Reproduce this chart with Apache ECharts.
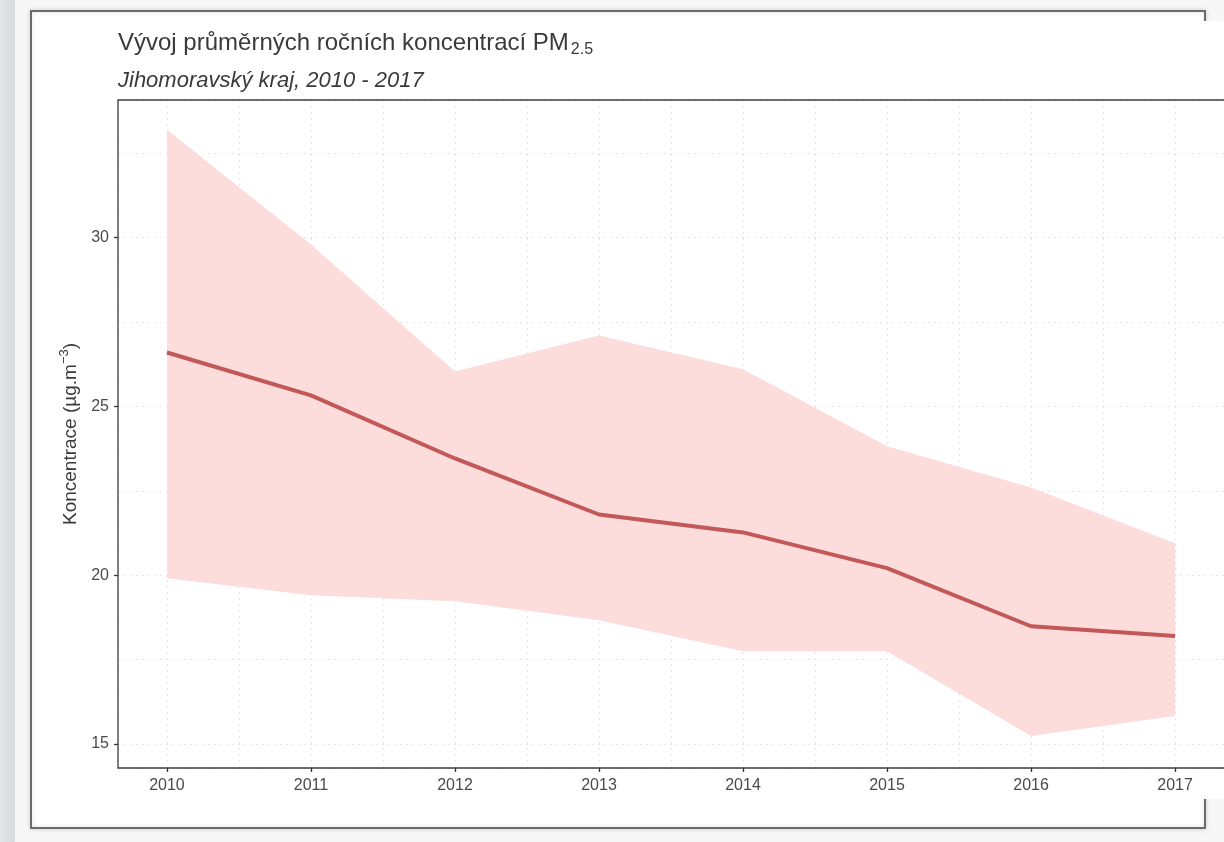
<!DOCTYPE html>
<html>
<head>
<meta charset="utf-8">
<script src="https://cdn.jsdelivr.net/npm/echarts@6/dist/echarts.min.js"></script>
<style>
  html, body { margin: 0; padding: 0; background: #f7f7f7; }
  #chart { width: 1224px; height: 842px; }
</style>
</head>
<body>
<div id="chart"></div>
<script>
// PM2.5 yearly averages, Jihomoravsky kraj
const years = [2010, 2011, 2012, 2013, 2014, 2015, 2016, 2017];
const meanVals = [26.6, 25.33, 23.46, 21.8, 21.27, 20.21, 18.49, 18.2];
const upperVals = [33.2, 29.8, 26.04, 27.1, 26.1, 23.82, 22.6, 20.95];
const lowerVals = [19.91, 19.41, 19.23, 18.67, 17.75, 17.75, 15.24, 15.83];
const yTicks = [15, 20, 25, 30];

const xRange = [2009.66, 2017.34];
const yRange = [14.29, 34.08];

const txt = '#4a4a4a';
const gridLine = { show: true, lineStyle: { color: '#e6e6e6', type: [2, 4], width: 1 } };

const chart = echarts.init(document.getElementById('chart'));

// ribbon between lower and upper values
function renderBand(params, api) {
    if (params.dataIndex !== 0) return;
    const top = years.map((y, i) => api.coord([y, upperVals[i]]));
    const bottom = years.map((y, i) => api.coord([y, lowerVals[i]])).reverse();
    return {
        type: 'polygon',
        shape: { points: top.concat(bottom) },
        style: { fill: '#fddcdc' }
    };
}

chart.setOption({
    backgroundColor: '#f7f7f7',
    animation: false,
    textStyle: { fontFamily: 'Liberation Sans, Arial, sans-serif' },
    graphic: [
        // left grey strip of the screenshot
        { type: 'rect', shape: { x: 0, y: 0, width: 15, height: 842 },
          style: { fill: new echarts.graphic.LinearGradient(0, 0, 1, 0, [
              { offset: 0, color: '#e2e6e9' }, { offset: 1, color: '#d5dade' }]) }, z: -10 },
        // white card with frame
        { type: 'rect', shape: { x: 31, y: 11, width: 1174, height: 817 },
          style: { fill: '#ffffff', stroke: '#6b6b6b', lineWidth: 2,
                   shadowBlur: 4, shadowColor: 'rgba(0,0,0,0.15)' }, z: -9 },
        // plot image covering right edge of frame
        { type: 'rect', shape: { x: 1195, y: 21, width: 40, height: 778 },
          style: { fill: '#ffffff' }, z: -8 },
        // panel border
        { type: 'rect', shape: { x: 118, y: 100, width: 1109, height: 668 },
          style: { fill: null, stroke: '#3d3d3d', lineWidth: 1.3 }, z: 50 },
        { type: 'text', left: 118, top: 31,
          style: { text: '{t|Vývoj průměrných ročních koncentrací PM}{s|2.5}',
                   rich: { t: { fontSize: 24, fill: '#3a3a3a', fontFamily: 'Liberation Sans' },
                           s: { fontSize: 16, fill: '#3a3a3a', padding: [14, 0, 0, 2], fontFamily: 'Liberation Sans' } } } },
        { type: 'text', left: 118, top: 70,
          style: { text: 'Jihomoravský kraj, 2010 - 2017', fontSize: 22, fontStyle: 'italic',
                   fill: '#3a3a3a', fontFamily: 'Liberation Sans' } }
    ],
    grid: {
        left: 118, top: 100, width: 1109, height: 668,
        show: true, borderWidth: 0, backgroundColor: '#ffffff'
    },
    xAxis: [{
        type: 'value', min: xRange[0], max: xRange[1],
        minInterval: 1, maxInterval: 1, splitNumber: 8,
        axisLine: { show: false },
        axisTick: { show: true, length: 4, customValues: years, lineStyle: { color: '#333', width: 1.3 } },
        axisLabel: { color: txt, fontSize: 16, margin: 10, customValues: years,
                     formatter: v => String(v) },
        splitLine: { show: false }
    }, {
        type: 'value', min: xRange[0], max: xRange[1],
        minInterval: 0.5, maxInterval: 0.5, splitNumber: 16,
        axisLine: { show: false }, axisTick: { show: false }, axisLabel: { show: false },
        splitLine: gridLine
    }],
    yAxis: [{
        type: 'value', min: yRange[0], max: yRange[1],
        minInterval: 5, maxInterval: 5, splitNumber: 4,
        name: '{n|Koncentrace (µg.m}{p|−3}{n|)}',
        nameLocation: 'middle', nameGap: 35, nameRotate: 90,
        nameTextStyle: { rich: {
            n: { fontSize: 19, color: '#3a3a3a' },
            p: { fontSize: 13, color: '#3a3a3a', padding: [0, 0, 12, 0] } } },
        axisLine: { show: false },
        axisTick: { show: true, length: 4, customValues: yTicks, lineStyle: { color: '#333', width: 1.3 } },
        axisLabel: { color: txt, fontSize: 16, margin: 9, customValues: yTicks,
                     formatter: v => String(v) },
        splitLine: { show: false }
    }, {
        type: 'value', min: yRange[0], max: yRange[1],
        minInterval: 2.5, maxInterval: 2.5, splitNumber: 8,
        axisLine: { show: false }, axisTick: { show: false }, axisLabel: { show: false },
        splitLine: gridLine
    }],
    series: [{
        name: 'band', type: 'custom', renderItem: renderBand,
        data: years.map((y, i) => [y, lowerVals[i], upperVals[i]]),
        encode: { x: 0, y: [1, 2] }, silent: true, z: 2
    }, {
        name: 'mean', type: 'line', symbol: 'none',
        data: years.map((y, i) => [y, meanVals[i]]),
        lineStyle: { color: '#c35858', width: 4 }, z: 5
    }]
});
</script>
</body>
</html>
